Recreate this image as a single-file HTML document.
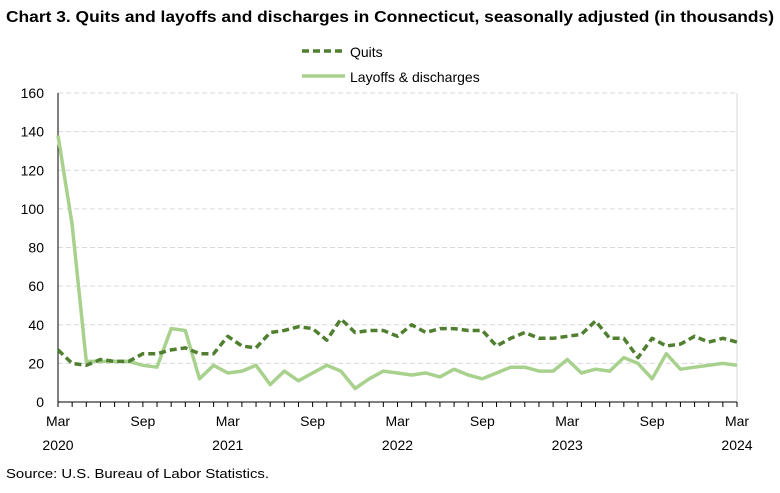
<!DOCTYPE html>
<html><head><meta charset="utf-8">
<style>
body{margin:0;background:#fff;font-family:"Liberation Sans",Arial,sans-serif;}
svg text{font-family:"Liberation Sans",Arial,sans-serif;}
</style></head>
<body>
<svg id="chart" width="780" height="488" viewBox="0 0 780 488">
<text x="6" y="22" font-size="15.5" font-weight="bold" fill="#000" textLength="768" lengthAdjust="spacingAndGlyphs">Chart 3. Quits and layoffs and discharges in Connecticut, seasonally adjusted (in thousands)</text>
<g>
<line x1="302" y1="51" x2="345" y2="51" stroke="#4f7f2f" stroke-width="3.5" stroke-dasharray="7,4"/>
<text x="350" y="57" font-size="14">Quits</text>
<line x1="302" y1="76" x2="345" y2="76" stroke="#a9d18e" stroke-width="3.5"/>
<text x="350" y="82" font-size="14">Layoffs &amp; discharges</text>
</g>
<g id="grid"></g><g id="axes"></g><g id="series"></g>
<text x="6" y="478" font-size="13" textLength="263" lengthAdjust="spacingAndGlyphs">Source: U.S. Bureau of Labor Statistics.</text>
</svg>
<script>
const quits=[27,20,19,22,21,21,25,25,27,28,25,25,34,29,28,36,37,39,38,32,43,36,37,37,34,40,36,38,38,37,37,29,33,36,33,33,34,35,42,33,33,23,33,29,30,34,31,33,31];
const layoffs=[138,92,21,21,21,21,19,18,38,37,12,19,15,16,19,9,16,11,15,19,16,7,12,16,15,14,15,13,17,14,12,15,18,18,16,16,22,15,17,16,23,20,12,25,17,18,19,20,19];
const yTicks=[0,20,40,60,80,100,120,140,160];
const xLabels=[["Mar","2020"],["Sep",""],["Mar","2021"],["Sep",""],["Mar","2022"],["Sep",""],["Mar","2023"],["Sep",""],["Mar","2024"]];
const NS="http://www.w3.org/2000/svg";
const x0=58,x1=737,y0=402,y1=93;
const X=i=>x0+(x1-x0)*i/(quits.length-1);
const Y=v=>y0-(y0-y1)*v/160;
function mk(tag,attrs,parent){const e=document.createElementNS(NS,tag);for(const k in attrs)e.setAttribute(k,attrs[k]);document.getElementById(parent).appendChild(e);return e;}
yTicks.forEach(t=>{
 if(t>0){const g=mk('line',{x1:x0,x2:x1,y1:Y(t),y2:Y(t),stroke:'#d9d9d9','stroke-dasharray':'5,3'},'grid');
 
 }
 const l=mk('text',{x:x0-14,y:Y(t)+5,'font-size':14,'text-anchor':'end',fill:'#000'},'grid');l.textContent=t;
 
 
});
const rb=mk('line',{x1:x1,x2:x1,y1:y1,y2:y0,stroke:'#d9d9d9'},'grid');


const ax=mk('line',{x1:x0,x2:x1,y1:y0,y2:y0,stroke:'#000','stroke-width':1},'axes');


const ay=mk('line',{x1:x0,x2:x0,y1:y1,y2:y0,stroke:'#000','stroke-width':1},'axes');


for(let i=0;i<quits.length;i++){const t=mk('line',{x1:X(i),x2:X(i),y1:y0,y2:y0+5,stroke:'#000'},'axes');
 
 }
xLabels.forEach((lb,k)=>{const i=k*6;
 const a=mk('text',{x:X(i),y:y0+24,'font-size':14,'text-anchor':'middle'},'axes');a.textContent=lb[0];
 
 
 if(lb[1]){const b=mk('text',{x:X(i),y:y0+48,'font-size':14,'text-anchor':'middle'},'axes');b.textContent=lb[1];
 
 }
});
const pl=arr=>arr.map((v,i)=>X(i).toFixed(1)+','+Y(v).toFixed(1)).join(' ');
const lay=mk('polyline',{points:pl(layoffs),fill:'none',stroke:'#a9d18e','stroke-width':3.5,'stroke-linejoin':'round'},'series');


const q=mk('polyline',{points:pl(quits),fill:'none',stroke:'#4f7f2f','stroke-width':3.5,'stroke-dasharray':'7,4','stroke-linejoin':'round'},'series');


</script>
</body></html>
